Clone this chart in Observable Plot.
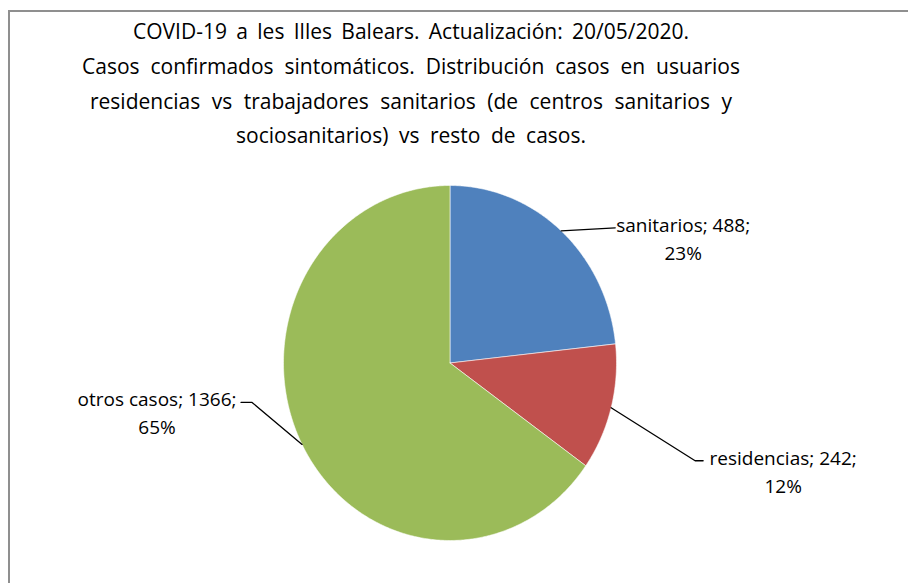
<!DOCTYPE html>
<html><head><meta charset="utf-8">
<script src="https://cdn.jsdelivr.net/npm/d3@7"></script>
<script src="https://cdn.jsdelivr.net/npm/@observablehq/plot@0.6"></script>
<style>
body{margin:0;background:#fff;font-family:"Open Sans",sans-serif}
#wrap{position:relative;width:908px;height:583px;overflow:hidden;background:#fff}
#frame{position:absolute;left:8px;top:10px;width:1000px;height:1000px;border-top:2px solid #8f8f8f;border-left:2px solid #8f8f8f}
#title{position:absolute;left:0;top:0}
#chart{position:absolute;left:0;top:150px}
</style></head><body>
<div id="wrap"><div id="frame"></div><svg id="title" width="908" height="150"></svg><div id="chart"></div></div>
<script>
// ---- data ----
const categories = ["sanitarios", "residencias", "otros casos"];
const values = [488, 242, 1366];
const colors = ["#4F81BD", "#C0504D", "#9BBB59"];
const titleLines = [
  "COVID-19 a les Illes Balears. Actualización: 20/05/2020.",
  "Casos confirmados sintomáticos. Distribución casos en usuarios",
  "residencias vs trabajadores sanitarios (de centros sanitarios y",
  "sociosanitarios) vs resto de casos."
];

// ---- layout (pixels) ----
const titleLayout = {cx: 411, baselines: [39, 74, 108.5, 143], widths: [556, 658, 642, 350], fontSize: 21};
const W = 908, H = 433;
const margins = {left: 283, right: 292, top: 35, bottom: 43};
const rx = (W - margins.left - margins.right) / 2, ry = (H - margins.top - margins.bottom) / 2;
// offsets from slice mid-edge point: elbow, end of leader, text block centre
const labelLayout = [
  {pts: [[54, -3], [54, -3]], text: [122, 6]},
  {pts: [[84, 53], [92, 53]], text: [172, 62]},
  {pts: [[-50, -42], [-61, -42]], text: [-145, -33]}
];

// ---- title ----
const tsvg = d3.select("#title");
titleLines.forEach((t, i) => {
  const el = tsvg.append("text")
    .attr("x", titleLayout.cx).attr("y", titleLayout.baselines[i])
    .attr("text-anchor", "middle")
    .attr("font-family", "Open Sans").attr("font-size", titleLayout.fontSize)
    .attr("fill", "#000").text(t);
  const natural = el.node().getComputedTextLength();
  const spaces = (t.match(/ /g) || []).length;
  el.attr("word-spacing", ((titleLayout.widths[i] - natural) / spaces).toFixed(2));
});

// ---- pie geometry via d3.pie ----
const total = d3.sum(values);
const arcs = d3.pie().sort(null).value(d => d)(values);
const slices = [];
const step = Math.PI * 2 / 720;
arcs.forEach((p, i) => {
  const c = categories[i];
  slices.push({cat: c, x: 0, y: 0});
  const n = Math.max(2, Math.ceil((p.endAngle - p.startAngle) / step));
  for (let k = 0; k <= n; k++) {
    const a = p.startAngle + (p.endAngle - p.startAngle) * k / n;
    slices.push({cat: c, x: Math.sin(a), y: Math.cos(a)});
  }
  slices.push({cat: c, x: 0, y: 0});
});

const leaders = [], labels = [];
arcs.forEach((p, i) => {
  const m = (p.startAngle + p.endAngle) / 2;
  const ex = Math.sin(m), ey = Math.cos(m);
  const c = categories[i];
  leaders.push({cat: c, x: ex, y: ey});
  labelLayout[i].pts.forEach(([ox, oy]) => leaders.push({cat: c, x: ex + ox / rx, y: ey - oy / ry}));
  const [tx, ty] = labelLayout[i].text;
  labels.push({
    x: ex + tx / rx, y: ey - ty / ry,
    text: `${c}; ${values[i]};\n${Math.round(values[i] / total * 100)}%`
  });
});

const chart = Plot.plot({
  width: W, height: H,
  marginLeft: margins.left, marginRight: margins.right, marginTop: margins.top, marginBottom: margins.bottom,
  x: {domain: [-1, 1], axis: null},
  y: {domain: [-1, 1], axis: null},
  color: {domain: categories, range: colors},
  style: {fontFamily: "Open Sans", background: "none", overflow: "visible"},
  marks: [
    Plot.line(slices, {x: "x", y: "y", z: "cat", fill: "cat", stroke: "#ffffff", strokeWidth: 0.7, strokeOpacity: 0.8, strokeLinejoin: "round"}),
    Plot.line(leaders, {x: "x", y: "y", z: "cat", stroke: "#000", strokeWidth: 1.3}),
    Plot.text(labels, {x: "x", y: "y", text: "text", fontSize: 19, lineHeight: 28 / 19, fill: "#000", textAnchor: "middle"})
  ]
});
document.getElementById("chart").appendChild(chart);
</script>
</body></html>
